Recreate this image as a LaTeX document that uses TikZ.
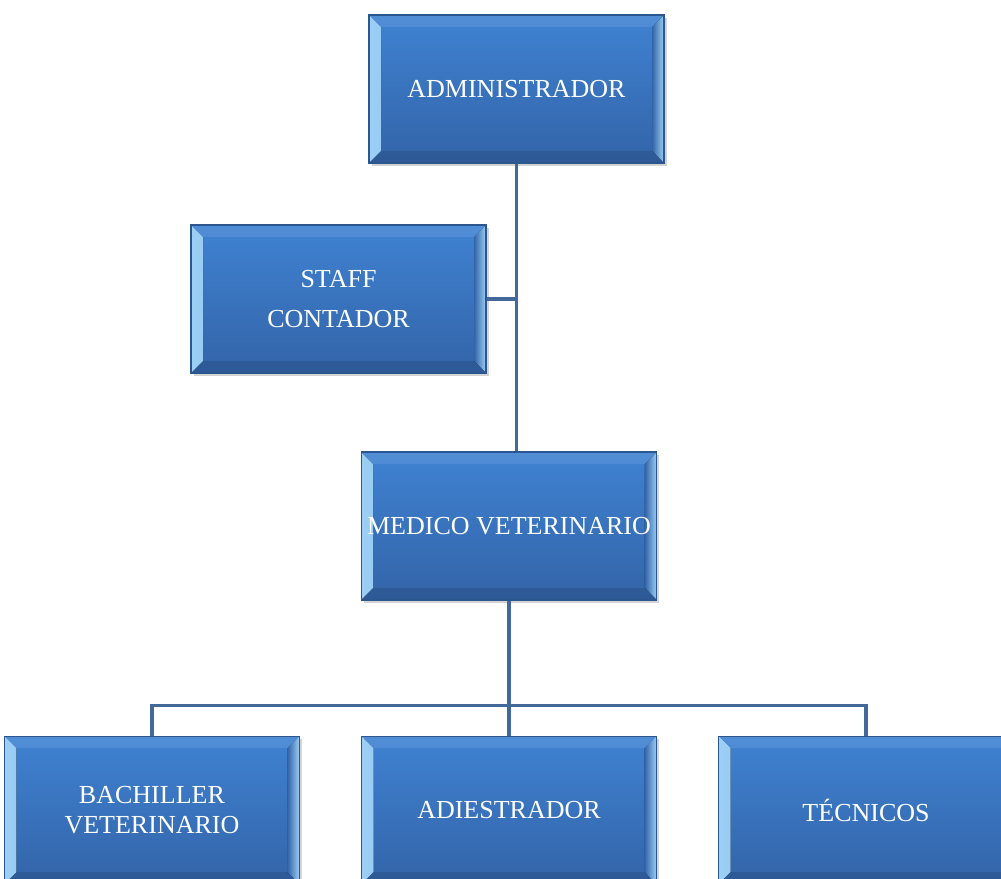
\documentclass[tikz,border=0pt]{standalone}
\usepackage{fontspec}
\setmainfont{Liberation Serif}
\usepackage{tikz}
\usetikzlibrary{positioning,shadows}
\definecolor{orgTop}{HTML}{3F82D2}
\definecolor{orgBottom}{HTML}{3364A8}
\definecolor{orgEdge}{HTML}{2B568E}
\definecolor{orgBevel}{HTML}{9CCFF5}
\definecolor{orgLine}{HTML}{43699B}

\begin{document}
\begin{tikzpicture}[
    node distance=2.1cm and 1.22cm,
    every node/.style={font=\fontsize{14.8}{16.8}\selectfont, align=center},
    unit/.style={draw=orgEdge, line width=0.6pt, top color=orgTop, bottom color=orgBottom,
      minimum width=5.9cm, minimum height=2.96cm, text=white,
      drop shadow={opacity=0.35, shadow xshift=1.5pt, shadow yshift=-1.5pt},
      path picture={
        \fill[left color=orgBevel, right color=orgTop]
          (path picture bounding box.south west) -- (path picture bounding box.north west)
          -- ([shift={(0.24,-0.24)}]path picture bounding box.north west)
          -- ([shift={(0.24,0.24)}]path picture bounding box.south west) -- cycle;
        \fill[left color=orgBottom, right color=orgBevel]
          (path picture bounding box.south east) -- (path picture bounding box.north east)
          -- ([shift={(-0.24,-0.24)}]path picture bounding box.north east)
          -- ([shift={(-0.24,0.24)}]path picture bounding box.south east) -- cycle;
        \fill[orgTop!85!white, opacity=0.6]
          (path picture bounding box.north west) -- (path picture bounding box.north east)
          -- ([shift={(-0.24,-0.24)}]path picture bounding box.north east)
          -- ([shift={(0.24,-0.24)}]path picture bounding box.north west) -- cycle;
        \fill[orgBottom!80!black, opacity=0.5]
          (path picture bounding box.south west) -- (path picture bounding box.south east)
          -- ([shift={(-0.24,0.24)}]path picture bounding box.south east)
          -- ([shift={(0.24,0.24)}]path picture bounding box.south west) -- cycle;
      }},
    link/.style={draw=orgLine, line width=2.2pt}
  ]
    \clip (0,0) rectangle (20.02,-17.58);

    \node[unit] (admin) at (10.33,-1.78) {ADMINISTRADOR};
    \node[unit] (staff) at (6.77,-5.98) {STAFF\\[6pt]CONTADOR};
    \node[unit] (medico) at (10.18,-10.52) {MEDICO VETERINARIO};
    \node[unit, below=2.7cm of medico] (adiestrador) {ADIESTRADOR};
    \node[unit, left=of adiestrador] (bachiller) {BACHILLER\\VETERINARIO};
    \node[unit, right=of adiestrador] (tecnicos) {TÉCNICOS};

    \draw[link] (admin.south) -- (admin.south |- medico.north);
    \draw[link] (staff.east) -- (staff.east -| admin.south);
    \draw[link] (medico.south) -- ++(0,-2.1) coordinate (bus);
    \draw[link] (bachiller.north) |- (bus) -| (tecnicos.north);
    \draw[link] (bus) -- (adiestrador.north);
\end{tikzpicture}
\end{document}
